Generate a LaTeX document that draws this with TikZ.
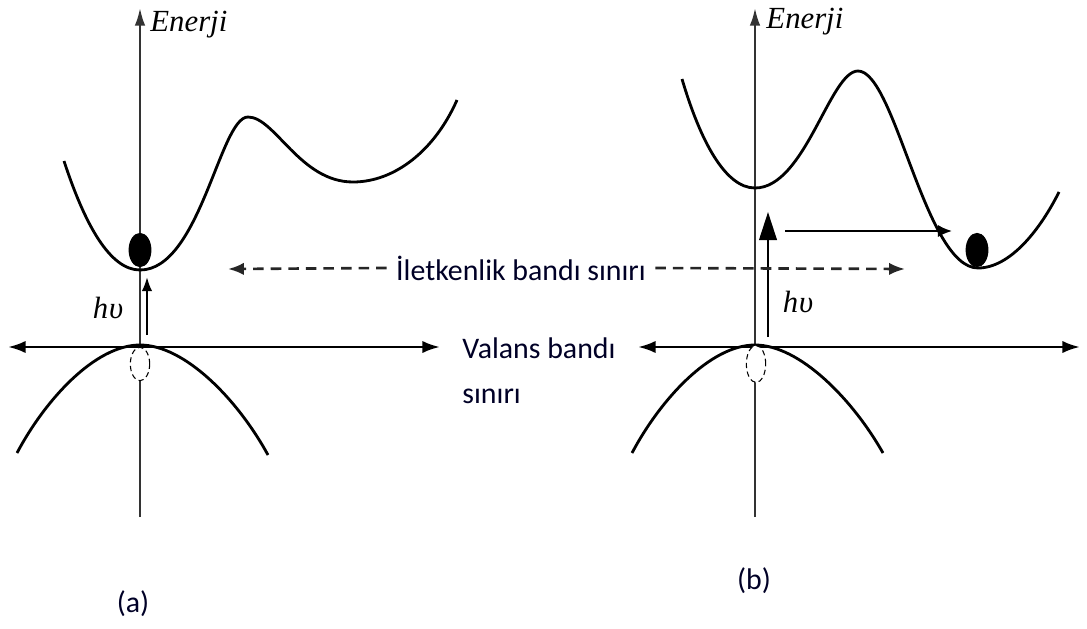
\documentclass[tikz,border=0pt]{standalone}
\usepackage{fontspec}
\setmainfont{Carlito}
\newfontfamily\timesfont{Liberation Serif}
\usetikzlibrary{arrows.meta,shapes.geometric,positioning}

\begin{document}
\begin{tikzpicture}[x=0.02cm, y=-0.02cm, thick,
        band/.style={line width=1.6pt},
        haxis/.style={line width=1.6pt, {Latex[length=10pt,width=7pt]}-{Latex[length=10pt,width=7pt]}},
        vaxis/.style={line width=1.3pt, draw=black!80, -{Latex[length=10pt,width=6pt]}},
        electron/.style={ellipse, fill=black, inner sep=0pt, minimum width=13pt, minimum height=19.5pt},
        hole/.style={ellipse, draw, fill=white, densely dashed, line width=0.6pt, inner sep=0pt, minimum width=11pt, minimum height=19pt},
        limit/.style={dash pattern=on 6pt off 4pt, line width=1.5pt, draw=black!85, -{Latex[length=9pt,width=7pt]}},
        bandtext/.style={font=\fontsize{17}{25.5}\selectfont, text=black!85!blue, inner sep=1pt},
        energy/.style={font=\timesfont\itshape\fontsize{17.5}{20}\selectfont, inner sep=1pt},
        photon/.style={line width=1.3pt}]
        \useasboundingbox (0,0) rectangle (1087,628);

        % (a) direkt bant
        \coordinate (a0) at (140,517);
        \coordinate (aTop) at (140,8);
        \coordinate (aL) at (8,347);
        \coordinate (aR) at (440,347);
        \draw[vaxis] (a0) -- (aTop);
        \draw[haxis] (aL) -- (aR);
        \node (enerjiA) [energy, anchor=west] at (148,25) {Enerji};

        \draw[band] (64,161) .. controls (85,225) and (110,270) .. (140,270)
            .. controls (200,270) and (220,117) .. (248,117)
            .. controls (275,117) and (300,182) .. (353,182)
            .. controls (395,182) and (435,150) .. (457,100);
        \draw[band] (17,453) .. controls (45,400) and (95,345) .. (140,345)
            .. controls (185,345) and (238,400) .. (268,455);

        \node (eA) [electron] at (140,250) {};
        \node (hA) [hole] at (140,364) {};
        \coordinate (pA0) at (147,335);
        \coordinate (pA1) at (147,277);
        \draw[photon, -{Latex[length=8pt,width=6pt]}] (pA0) -- (pA1);
        \node (huA) [energy] at (108,308) {h\kern0.5pt υ};

        % (b) dolayli bant
        \coordinate (b0) at (755,517);
        \coordinate (bTop) at (755,8);
        \coordinate (bL) at (638,347);
        \coordinate (bR) at (1080,347);
        \draw[vaxis] (b0) -- (bTop);
        \draw[haxis] (bL) -- (bR);
        \node (enerjiB) [energy, anchor=west] at (764,22) {Enerji};

        \draw[band] (682,79) .. controls (700,140) and (725,188) .. (755,188)
            .. controls (805,188) and (830,71) .. (858,71)
            .. controls (895,71) and (925,268) .. (978,268)
            .. controls (1010,268) and (1040,230) .. (1059,192);
        \draw[band] (632,453) .. controls (660,400) and (710,345) .. (755,345)
            .. controls (800,345) and (853,400) .. (883,453);

        \node (eB) [electron] at (977,250) {};
        \node (hB) [hole, minimum height=21pt] at (756,364) {};
        \coordinate (pB0) at (768,337);
        \coordinate (pB1) at (768,212);
        \coordinate (qB0) at (785,231);
        \coordinate (qB1) at (952,231);
        \draw[photon, -{Triangle[length=16pt,width=10pt]}] (pB0) -- (pB1);
        \draw[photon, -{Latex[length=8pt,width=7pt]}] (qB0) -- (qB1);
        \node (huB) [energy] at (798,302) {h\kern0.5pt υ};

        % sinir etiketleri
        \node (iletken) [bandtext, inner sep=5pt] at (521,268) {İletkenlik bandı sınırı};
        \coordinate (dL) at (228,269);
        \coordinate (dR) at (905,269);
        \draw[limit] (iletken.west) -- (dL);
        \draw[limit] (iletken.east) -- (dR);
        \node (valans) [bandtext, align=left, anchor=west] at (460,371) {Valans bandı\\sınırı};

        \node (capA) [bandtext] at (133,604) {(a)};
        \node (capB) [bandtext] at (754,581) {(b)};
    \end{tikzpicture}
\end{document}
